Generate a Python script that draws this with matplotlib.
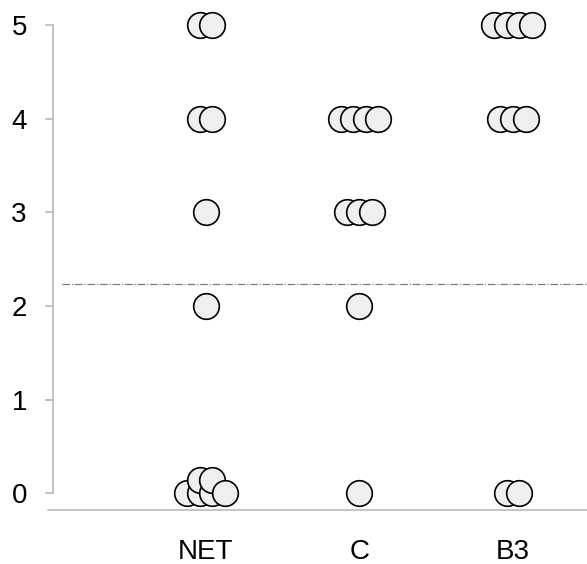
import numpy as np
import matplotlib.pyplot as plt

plt.rcParams["font.family"] = ["Liberation Sans", "DejaVu Sans"]

# scores per group
categories = ["NET", "C", "B3"]
net_scores = [5, 5, 4, 4, 3, 2, 0, 0, 0, 0, 0.14, 0.14]
c_scores = [4, 4, 4, 4, 3, 3, 3, 2, 0]
b3_scores = [5, 5, 5, 5, 4, 4, 4, 0, 0]
reference_level = 2.23
y_ticks = [0, 1, 2, 3, 4, 5]

SPREAD = 0.082  # horizontal gap between tied points


def swarm_offsets(values):
    """Spread tied values side by side around the group centre."""
    values = np.asarray(values, dtype=float)
    offsets = np.zeros(len(values))
    for v in np.unique(values):
        idx = np.where(values == v)[0]
        n = len(idx)
        offsets[idx] = (np.arange(n) - (n - 1) / 2) * SPREAD
    return offsets


fig = plt.figure(figsize=(5.87, 5.64), dpi=100)
ax = fig.add_axes([48 / 587, 54 / 564, 1 - 48 / 587, 510 / 564])

for i, scores in enumerate([net_scores, c_scores, b3_scores]):
    xs = i + swarm_offsets(scores)
    order = np.argsort(xs, kind="stable")
    for j in order:
        ax.scatter(xs[j], scores[j], s=340, facecolor="#efefef",
                   edgecolor="black", linewidth=1.2, zorder=3, clip_on=False)

ax.axhline(reference_level, xmin=0.026, xmax=1, color="#777777",
           linestyle="-.", linewidth=0.85, zorder=1)

ax.set_xlim(-1.029, 2.482)
ax.set_ylim(-0.18, 5.27)

ax.set_xticks(range(len(categories)))
ax.set_xticklabels(categories)
ax.set_yticks(y_ticks)
ax.set_yticklabels([str(t) for t in y_ticks])

for side in ["top", "right"]:
    ax.spines[side].set_visible(False)
ax.spines["left"].set_bounds(0, 5)
ax.spines["left"].set_position(("axes", 5 / 539))
for side in ["left", "bottom"]:
    ax.spines[side].set_color("#b4b4b4")
    ax.spines[side].set_linewidth(1.1)

ax.tick_params(axis="y", length=5.8, width=1.1, color="#b4b4b4",
               labelsize=20, pad=13)
ax.tick_params(axis="x", length=0, labelsize=20, pad=21)

fig.savefig("out.png", dpi=100)
